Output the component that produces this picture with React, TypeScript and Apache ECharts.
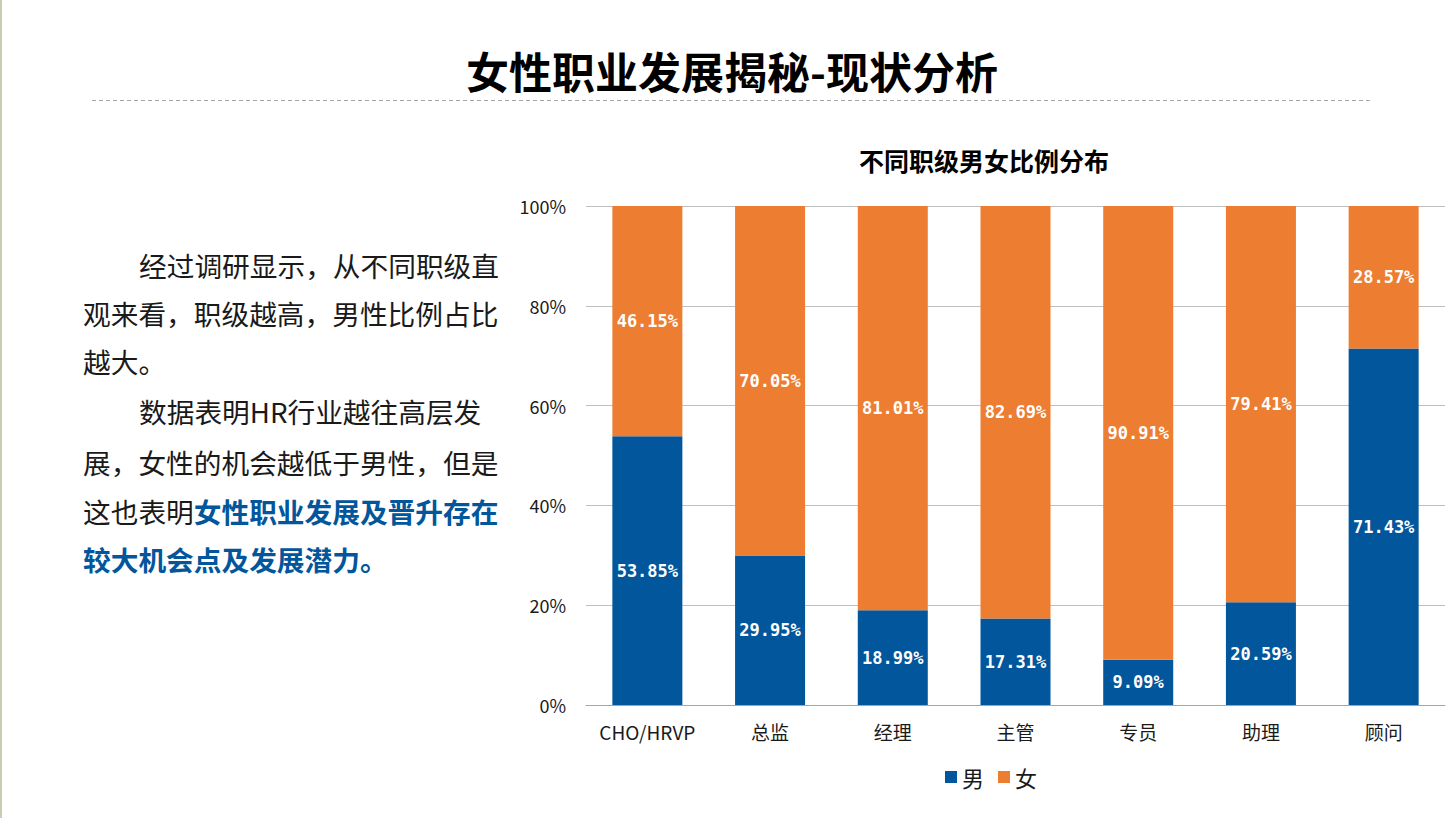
import React, { useEffect, useRef } from "react";
import * as echarts from "echarts";

const categories = ["CHO/HRVP", "总监", "经理", "主管", "专员", "助理", "顾问"];
const maleValues = [53.85, 29.95, 18.99, 17.31, 9.09, 20.59, 71.43];
const femaleValues = [46.15, 70.05, 81.01, 82.69, 90.91, 79.41, 28.57];
const seriesNames = ["男", "女"];
const yTicks = [0, 20, 40, 60, 80, 100];

const pageTitle = "女性职业发展揭秘-现状分析";
const chartTitle = "不同职级男女比例分布";
const paragraphLines = [
  "经过调研显示，从不同职级直",
  "观来看，职级越高，男性比例占比",
  "越大。",
  "数据表明HR行业越往高层发",
  "展，女性的机会越低于男性，但是",
];
const line6Normal = "这也表明";
const line6Bold = "女性职业发展及晋升存在";
const line7Bold = "较大机会点及发展潜力。";

const BLUE = "#02569B";
const ORANGE = "#ED7D31";
const CJK = "'Noto Sans CJK SC', 'Microsoft YaHei', sans-serif";

export default function App() {
  const ref = useRef<HTMLDivElement>(null);
  useEffect(() => {
    if (!ref.current) return;
    const chart = echarts.init(ref.current, null, { renderer: "svg" });
    const labelStyle = {
      show: true,
      position: "inside" as const,
      color: "#ffffff",
      fontFamily: "'DejaVu Sans Mono', monospace",
      fontWeight: "bold" as const,
      fontSize: 17,
      formatter: (p: any) => p.value.toFixed(2) + "%",
    };
    const textX = 83;
    const indentX = 139;
    const lineYs = [265, 313, 361, 411, 462, 511, 559];
    const FS = 27.7;
    const pStyle = { fontSize: FS, fontFamily: CJK, fill: "#1a1a1a" };
    const graphics: any[] = [
      { type: "rect", shape: { x: 0, y: 0, width: 2, height: 818 }, style: { fill: "#c9cdb3" } },
      {
        type: "text",
        x: 732,
        y: 70,
        style: { text: pageTitle, fontSize: 43, fontWeight: "bold", fontFamily: CJK, fill: "#000", align: "center", verticalAlign: "middle" },
      },
      {
        type: "line",
        shape: { x1: 92, y1: 100.5, x2: 1372, y2: 100.5 },
        style: { stroke: "#a6a6a6", lineWidth: 1, lineDash: [4, 3] },
      },
    ];
    paragraphLines.forEach((t, i) => {
      const indent = i === 0 || i === 3;
      graphics.push({
        type: "text",
        x: indent ? indentX : textX,
        y: lineYs[i],
        style: { ...pStyle, text: t, verticalAlign: "middle" },
      });
    });
    graphics.push({
      type: "text",
      x: textX,
      y: lineYs[5],
      style: {
        text: `{n|${line6Normal}}{b|${line6Bold}}`,
        verticalAlign: "middle",
        rich: {
          n: { fontSize: FS, fontFamily: CJK, fill: "#1a1a1a", color: "#1a1a1a" },
          b: { fontSize: FS, fontFamily: CJK, fill: BLUE, color: BLUE, fontWeight: "bold" },
        },
      },
    });
    graphics.push({
      type: "text",
      x: textX,
      y: lineYs[6],
      style: { text: line7Bold, fontSize: FS, fontFamily: CJK, fill: BLUE, fontWeight: "bold", verticalAlign: "middle" },
    });

    chart.setOption({
      animation: false,
      backgroundColor: "#ffffff",
      title: {
        text: chartTitle,
        left: 979,
        top: 142,
        textAlign: "center",
        textStyle: { fontSize: 25, fontWeight: "bold", fontFamily: CJK, color: "#000" },
      },
      legend: {
        data: seriesNames,
        left: 940,
        top: 761,
        itemWidth: 12,
        itemHeight: 12,
        itemGap: 14,
        icon: "rect",
        textStyle: { fontSize: 22, fontFamily: CJK, color: "#1a1a1a", padding: [0, 0, 0, 0] },
      },
      grid: { left: 586, right: 10, top: 206, bottom: 113, containLabel: false },
      xAxis: {
        type: "category",
        data: categories,
        axisLine: { lineStyle: { color: "#a6a6a6" } },
        axisTick: { show: false },
        axisLabel: { fontSize: 19, fontFamily: CJK, color: "#1a1a1a", margin: 17, interval: 0 },
      },
      yAxis: {
        type: "value",
        min: 0,
        max: 100,
        interval: 20,
        axisLine: { show: false },
        axisTick: { show: false },
        splitLine: { lineStyle: { color: "#bfbfbf" } },
        axisLabel: {
          fontSize: 18,
          fontFamily: CJK,
          color: "#1a1a1a",
          margin: 20,
          customValues: yTicks,
          formatter: (v: number) => v + "%",
        },
      },
      series: [
        {
          name: seriesNames[0],
          type: "bar",
          stack: "total",
          data: maleValues,
          barWidth: 70,
          itemStyle: { color: BLUE },
          label: labelStyle,
        },
        {
          name: seriesNames[1],
          type: "bar",
          stack: "total",
          data: femaleValues,
          barWidth: 70,
          itemStyle: { color: ORANGE },
          label: labelStyle,
        },
      ],
      graphic: graphics,
    });
    return () => chart.dispose();
  }, []);
  return <div ref={ref} style={{ position: "absolute", left: 0, top: 0, width: 1455, height: 818 }} />;
}
